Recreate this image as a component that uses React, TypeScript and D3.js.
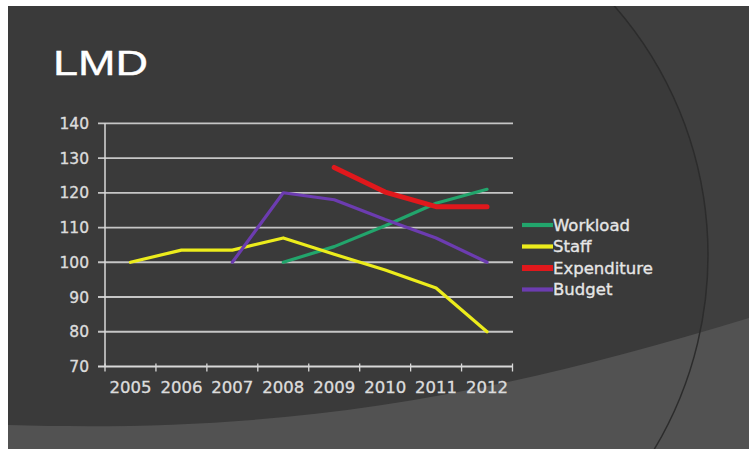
import React from "react";
import * as d3 from "d3";

const years = ["2005", "2006", "2007", "2008", "2009", "2010", "2011", "2012"];
const yTicks = [70, 80, 90, 100, 110, 120, 130, 140];

const workload: (number | null)[] = [null, null, null, 100, 104.5, 110.5, 117, 121];
const staff: (number | null)[] = [100, 103.5, 103.5, 107, 102.3, 97.8, 92.6, 80];
const expenditure: (number | null)[] = [null, null, null, null, 127.3, 120.2, 116, 116];
const budget: (number | null)[] = [null, null, 100, 120, 118, 112.3, 107, 100];

const seriesNames = ["Workload", "Staff", "Expenditure", "Budget"];
const seriesColors = ["#22a56c", "#ecec1c", "#e0181c", "#6c3cb0"];
const seriesWidths = [3.2, 3.2, 5, 3.2];
const seriesData = [workload, staff, expenditure, budget];

const W = 749;
const H = 450;

export default function App() {
  const x = d3.scaleBand<string>().domain(years).range([105, 512.5]).padding(0);
  const y = d3.scaleLinear().domain([70, 140]).range([366.5, 123.3]);
  const cx = (yr: string) => (x(yr) as number) + x.bandwidth() / 2;

  const line = d3
    .line<[string, number | null]>()
    .defined((d) => d[1] !== null)
    .x((d) => cx(d[0]))
    .y((d) => y(d[1] as number));

  const arcCx = 330, arcCy = 255, arcR = 378;
  const arcPath = d3.path();
  arcPath.arc(arcCx, arcCy, arcR, -Math.PI / 2.3, Math.PI / 2.6);

  const circ = d3.path();
  circ.arc(arcCx, arcCy, arcR, 0, Math.PI * 2);

  const bounds = x.domain().map((yr) => x(yr) as number).concat([512.5]);
  const textStyle = { stroke: "#dcdcdc", strokeWidth: 0.35 };

  return (
    <svg width={W} height={H} style={{ position: "absolute", left: 0, top: 0 }}>
      <defs>
        <clipPath id="slide">
          <rect x={8} y={6} width={741} height={443} />
        </clipPath>
        <clipPath id="rightSide">
          <rect x={560} y={6} width={189} height={443} />
        </clipPath>
      </defs>
      <rect x={0} y={0} width={W} height={H} fill="#ffffff" />
      <g clipPath="url(#slide)">
        <rect x={8} y={6} width={741} height={443} fill="#3a3a3a" />
        <g clipPath="url(#rightSide)">
          <path
            d={`M8,6 H749 V449 H8 Z ${circ.toString()}`}
            fillRule="evenodd"
            fill="#3f3f3f"
          />
        </g>
        <path d="M8,425 C250,432 450,410 749,318 L749,449 L8,449 Z" fill="#525252" />
        <path d={arcPath.toString()} fill="none" stroke="#2c2c2c" strokeWidth={1.5} />
      </g>

      <text
        x={53}
        y={75}
        fontFamily="Liberation Sans, Arial, sans-serif"
        fontSize={35}
        fill="#ffffff"
        textLength={95}
        lengthAdjust="spacingAndGlyphs"
        stroke="#ffffff"
        strokeWidth={0.4}
      >
        LMD
      </text>

      {yTicks.slice(1).map((t) => (
        <line key={t} x1={98} x2={513} y1={y(t)} y2={y(t)} stroke="#c6c6c6" strokeWidth={1.8} />
      ))}
      <line x1={105} x2={105} y1={y(140)} y2={y(70)} stroke="#d8d8d8" strokeWidth={1.5} />
      <line x1={98} x2={513} y1={y(70)} y2={y(70)} stroke="#d8d8d8" strokeWidth={1.8} />
      {bounds.map((b, i) => (
        <line key={i} x1={b} x2={b} y1={y(70) - 3} y2={y(70) + 5} stroke="#d8d8d8" strokeWidth={1.3} />
      ))}

      {yTicks.map((t) => (
        <text
          key={t}
          x={89}
          y={y(t)}
          dy="0.36em"
          textAnchor="end"
          fontFamily="DejaVu Sans"
          fontSize={15.5}
          fill="#dcdcdc"
          {...textStyle}
        >
          {t}
        </text>
      ))}
      {years.map((yr) => (
        <text
          key={yr}
          x={cx(yr)}
          y={393}
          textAnchor="middle"
          fontFamily="DejaVu Sans"
          fontSize={16.5}
          fill="#dcdcdc"
          {...textStyle}
        >
          {yr}
        </text>
      ))}

      {seriesData.map((s, i) => (
        <path
          key={seriesNames[i]}
          d={line(years.map((yr, j) => [yr, s[j]] as [string, number | null])) || ""}
          fill="none"
          stroke={seriesColors[i]}
          strokeWidth={seriesWidths[i]}
          strokeLinejoin="round"
          strokeLinecap="round"
        />
      ))}

      {seriesNames.map((n, i) => {
        const ly = 225 + i * 21.5;
        return (
          <g key={n}>
            <line x1={522} x2={553} y1={ly} y2={ly} stroke={seriesColors[i]} strokeWidth={seriesWidths[i] + 1} />
            <text
              x={553}
              y={ly}
              dy="0.36em"
              fontFamily="DejaVu Sans"
              fontSize={16.5}
              fill="#e6e6e6"
              stroke="#e6e6e6"
              strokeWidth={0.35}
            >
              {n}
            </text>
          </g>
        );
      })}
    </svg>
  );
}
